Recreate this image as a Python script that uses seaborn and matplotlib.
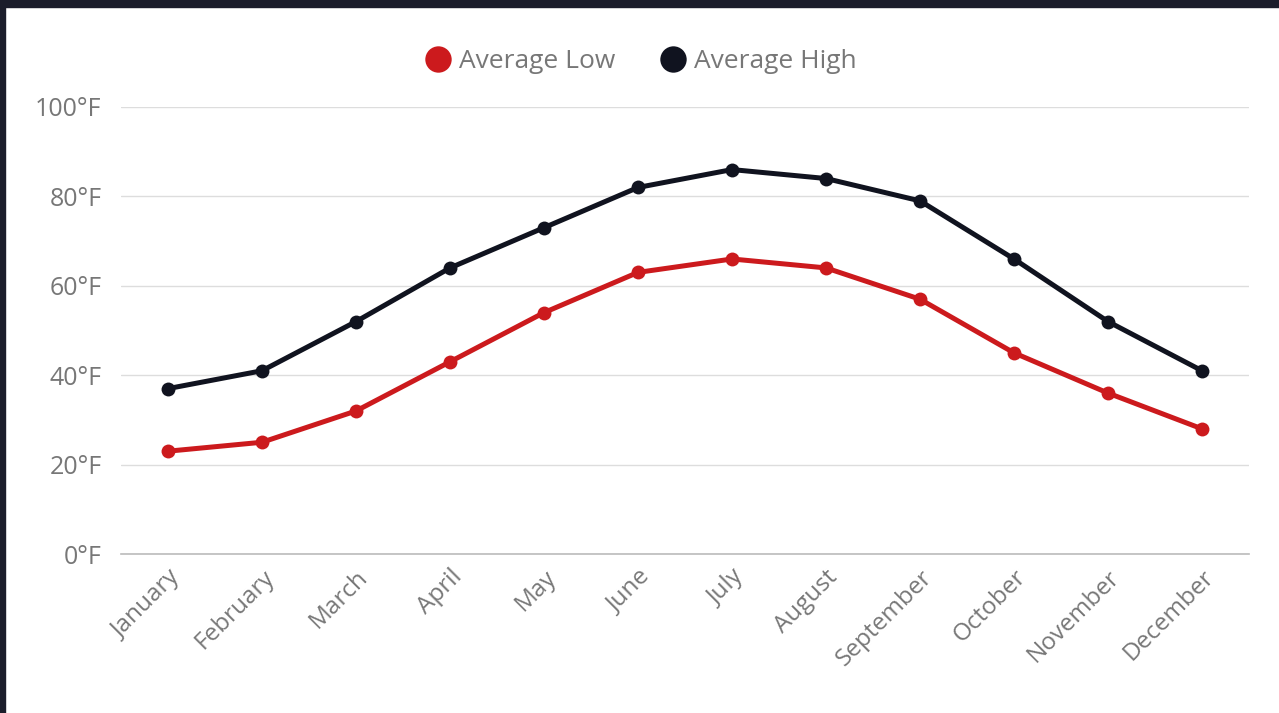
import matplotlib.pyplot as plt
import matplotlib.patches as mpatches
from matplotlib.lines import Line2D
import numpy as np
import pandas as pd
import seaborn as sns

# data
months = ['January', 'February', 'March', 'April', 'May', 'June', 'July',
          'August', 'September', 'October', 'November', 'December']
avg_low = [23, 25, 32, 43, 54, 63, 66, 64, 57, 45, 36, 28]
avg_high = [37, 41, 52, 64, 73, 82, 86, 84, 79, 66, 52, 41]
series_names = ['Average Low', 'Average High']
y_ticks = [0, 20, 40, 60, 80, 100]

colors = {'Average Low': '#cc1a1d', 'Average High': '#10131f'}

df = pd.DataFrame({
    'month': months * 2,
    'temp': avg_low + avg_high,
    'series': ['Average Low'] * 12 + ['Average High'] * 12,
})
df['x'] = list(range(12)) * 2

sns.set_theme(style='white')
plt.rcParams['font.family'] = ['Open Sans', 'DejaVu Sans']

fig = plt.figure(figsize=(12.79, 7.13), dpi=100)
fig.patch.set_facecolor('white')
ax = fig.add_axes([121 / 1279, 1 - 554 / 713, (1249 - 121) / 1279, (554 - 107) / 713])

sns.lineplot(data=df, x='x', y='temp', hue='series', hue_order=series_names,
             palette=colors, marker='o', markersize=10, markeredgewidth=0,
             linewidth=3.6, legend=False, ax=ax, zorder=3)

ax.set_xlim(-0.5, 11.5)
ax.set_ylim(0, 100)
ax.set_yticks(y_ticks)
ax.set_yticklabels([f'{v}°F' for v in y_ticks])
ax.set_xticks(range(12))
ax.set_xticklabels(months, rotation=45, ha='right', rotation_mode='anchor')
ax.set_xlabel('')
ax.set_ylabel('')

ax.grid(axis='y', color='#dddddd', linewidth=1)
ax.set_axisbelow(True)
for s in ['top', 'right', 'left']:
    ax.spines[s].set_visible(False)
ax.spines['bottom'].set_color('#bbbbbb')
ax.spines['bottom'].set_linewidth(1.2)
ax.tick_params(axis='both', length=0, colors='#777777')
ax.tick_params(axis='y', pad=14, labelsize=18)
ax.tick_params(axis='x', pad=8, labelsize=17.5)

handles = [Line2D([], [], marker='o', linestyle='', markersize=19,
                  markerfacecolor=colors[n], markeredgewidth=0) for n in series_names]
leg = fig.legend(handles, series_names, loc='center', bbox_to_anchor=(0.5, 1 - 62 / 713),
                 ncol=2, frameon=False, fontsize=19, handletextpad=0.2,
                 columnspacing=1.6, handlelength=1.2)
for t in leg.get_texts():
    t.set_color('#777777')

# dark page border visible in the screenshot
fig.patches.append(mpatches.Rectangle((0, 1 - 7 / 713), 1, 7 / 713, transform=fig.transFigure,
                                      color='#1b1d2b', zorder=10))
fig.patches.append(mpatches.Rectangle((0, 0), 5 / 1279, 1, transform=fig.transFigure,
                                      color='#1b1d2b', zorder=10))

fig.savefig('out.png', dpi=100)
